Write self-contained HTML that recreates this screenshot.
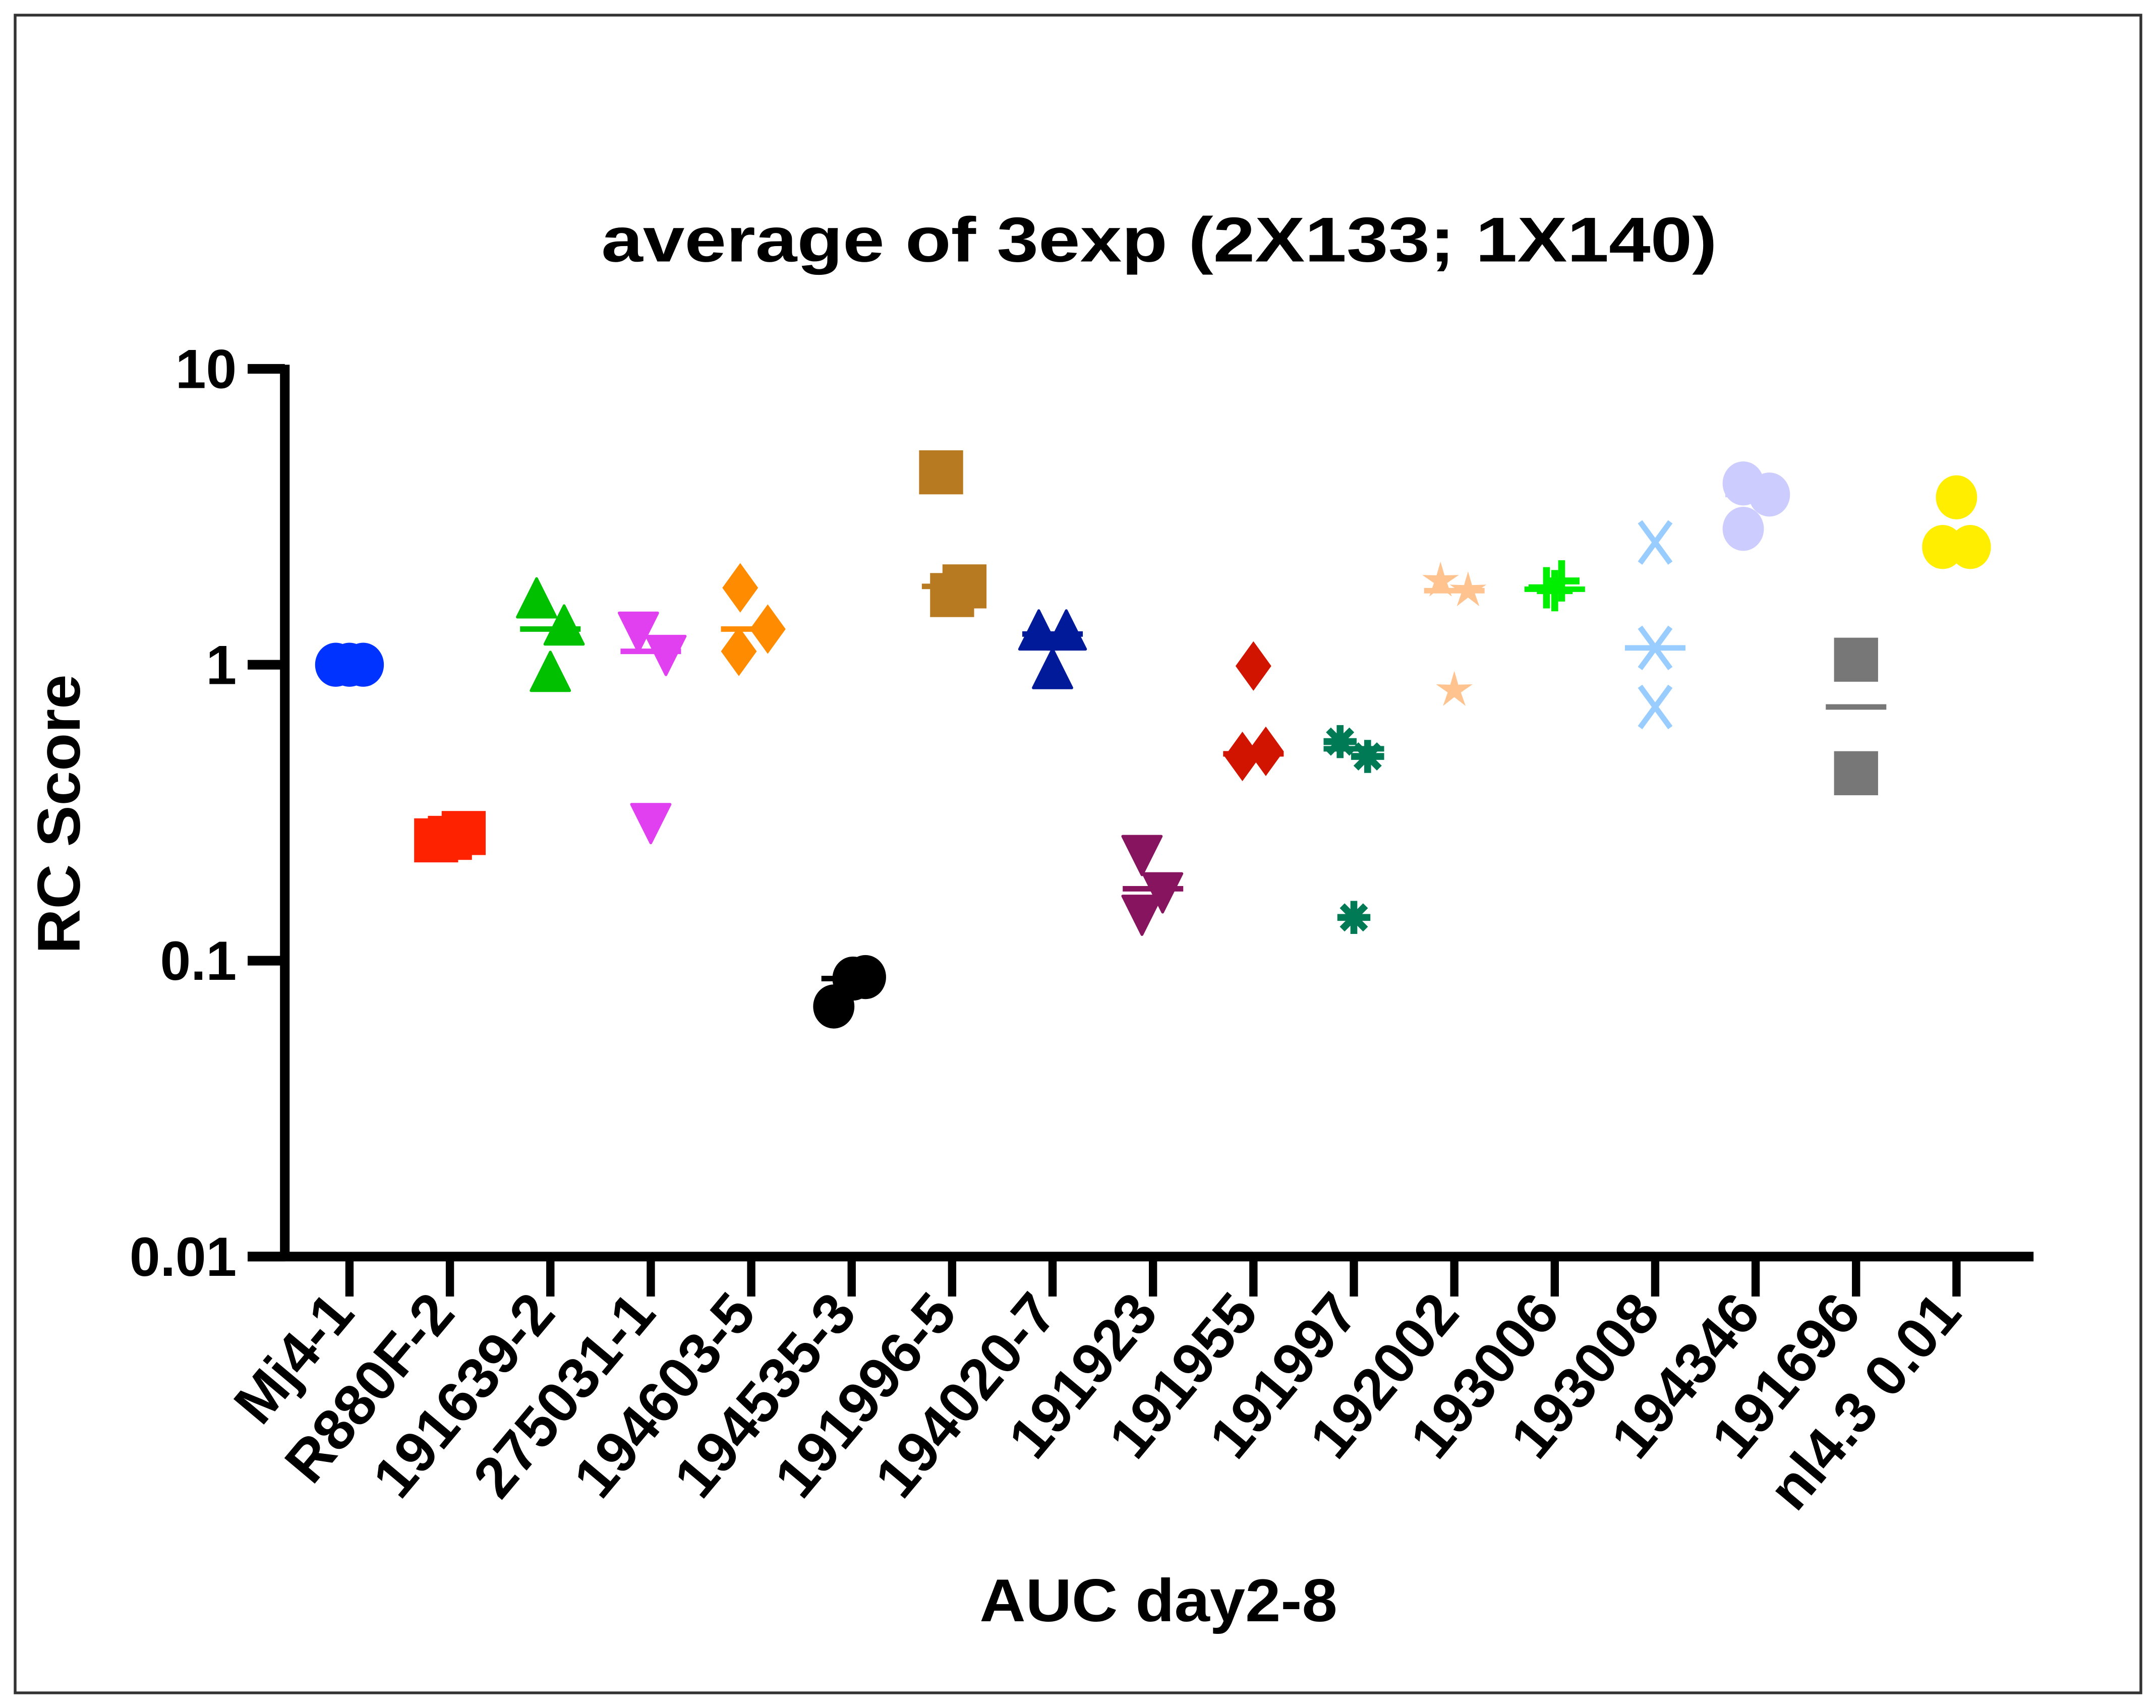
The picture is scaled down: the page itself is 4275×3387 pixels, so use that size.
<!DOCTYPE html>
<html><head><meta charset="utf-8"><style>
html,body{margin:0;padding:0;background:#fff;}
svg{display:block;font-family:"Liberation Sans",Arial,sans-serif;}
</style></head><body>
<svg id="chart" width="4275" height="3387" viewBox="0 0 1567 1241" preserveAspectRatio="none" xmlns="http://www.w3.org/2000/svg">
<rect x="11" y="11" width="1545" height="1219" fill="#fff" stroke="#333" stroke-width="2"/>
<text x="437" y="190" textLength="811" lengthAdjust="spacingAndGlyphs" font-size="46" font-weight="bold">average of 3exp (2X133; 1X140)</text>
<text transform="translate(58,693) rotate(-90)" textLength="203" lengthAdjust="spacingAndGlyphs" font-size="44" font-weight="bold">RC Score</text>
<text x="712" y="1178" textLength="260" lengthAdjust="spacingAndGlyphs" font-size="44" font-weight="bold">AUC day2-8</text>
<g id="axes"></g>
<g id="marks"></g>
</svg>
<script>
const categories = ["Mj4-1","R880F-2","191639-2","275031-1","194603-5","194535-3","191996-5","194020-7","191923","191955","191997","192002","193006","193008","194346","191696","nl4.3 0.01"];
const values = [
 [1,1,1],
 [0.255,0.27,0.26],
 [1.63,1.32,0.92],
 [1.33,1.11,0.30],
 [1.82,1.32,1.11],
 [0.070,0.087,0.088],
 [4.47,1.72,1.84],
 [1.27,1.27,0.94],
 [0.234,0.175,0.147],
 [0.99,0.49,0.51],
 [0.55,0.49,0.14],
 [1.92,1.78,0.82],
 [1.82,1.92,1.78],
 [2.59,1.14,0.72],
 [4.1,3.76,2.88],
 [1.04,0.43],
 [3.68,2.5,2.5]
];
const medians = [1,0.26,1.32,1.11,1.32,0.087,1.84,1.27,0.175,0.5,0.52,1.78,1.8,1.14,3.76,0.72,2.5];
const jitter = [[-10,0,10],[-10,10,0],[-10,10,0],[-9,11,0],[-8,12,-9],[-13,1,10],[-8,0,9],[-10,10,0],[-8,7,-8],[0,-8,9],[-10,10,0],[-10,10,0],[-6,5,0],[0,0,0],[-9,10,-9],[0,0],[0,-10,10]];
const shapes = ["circle","square","up","down","diamond","circle","square","up","down","diamond","asterisk","star","plus","x","circle","square","circle"];
const colors = ["#0033ff","#ff2200","#00c000","#e040f0","#ff8c00","#000000","#b87a20","#001a99","#86145e","#d01400","#007a55","#ffc38f","#00ee00","#99ccff","#ccccff","#777777","#ffee00"];
const yTicks = [10,1,0.1,0.01];
const yTickLabels = ["10","1","0.1","0.01"];

const NS="http://www.w3.org/2000/svg";
const X0=207, X1=1478, Y10=268, Y001=913;
const xFirst=254, xStep=73.0;
function xScale(i){return xFirst+i*xStep;}
function yScale(v){return Y001-(Math.log10(v)+2)/3*(Y001-Y10);}
function mk(tag,attrs,parent){const e=document.createElementNS(NS,tag);for(const k in attrs)e.setAttribute(k,attrs[k]);parent.appendChild(e);return e;}
const axes=document.getElementById('axes'), marks=document.getElementById('marks');

let yl=mk('line',{x1:X0,y1:Y10-3,x2:X0,y2:Y001+3,stroke:'#000','stroke-width':7},axes);


let xl=mk('line',{x1:X0-27,y1:Y001,x2:X1,y2:Y001,stroke:'#000','stroke-width':7},axes);


yTicks.forEach((t,i)=>{
  const y=yScale(t);
  let tk=mk('line',{x1:X0-27,y1:y,x2:X0,y2:y,stroke:'#000','stroke-width':7},axes);
  
  
  let tl=mk('text',{x:172,y:y+14,'text-anchor':'end','font-size':40,'font-weight':'bold'},axes);
  tl.textContent=yTickLabels[i];
  
  
});
categories.forEach((c,i)=>{
  const x=xScale(i);
  let tk=mk('line',{x1:x,y1:Y001,x2:x,y2:Y001+29,stroke:'#000','stroke-width':6},axes);
  
  
  let tl=mk('text',{transform:`translate(${x+5},${Y001+42}) rotate(-50)`,'text-anchor':'end','font-size':42,'font-weight':'bold'},axes);
  tl.textContent=c;
  
  
});

function marker(shape,x,y,col,g){
  if(shape==='circle') return mk('ellipse',{cx:x,cy:y,rx:15,ry:16,fill:col},g);
  if(shape==='square') return mk('rect',{x:x-16,y:y-16,width:32,height:32,fill:col},g);
  if(shape==='up') return mk('polygon',{points:`${x},${y-17} ${x+14},${y+11} ${x-14},${y+11}`,fill:col,stroke:col,'stroke-width':2,'stroke-linejoin':'round'},g);
  if(shape==='down') return mk('polygon',{points:`${x},${y+17} ${x+14},${y-11} ${x-14},${y-11}`,fill:col,stroke:col,'stroke-width':2,'stroke-linejoin':'round'},g);
  if(shape==='diamond') return mk('polygon',{points:`${x},${y-18} ${x+13},${y} ${x},${y+18} ${x-13},${y}`,fill:col},g);
  if(shape==='star'){let p=[];for(let k=0;k<10;k++){const a=-Math.PI/2+k*Math.PI/5;const rr=k%2?5:14;p.push((x+rr*Math.cos(a)).toFixed(1)+','+(y+rr*Math.sin(a)).toFixed(1));}return mk('polygon',{points:p.join(' '),fill:col},g);}
  if(shape==='asterisk'){let d='';for(let k=0;k<4;k++){const a=k*Math.PI/4;d+=`M${x-12*Math.cos(a)},${y-12*Math.sin(a)}L${x+12*Math.cos(a)},${y+12*Math.sin(a)}`;}return mk('path',{d:d,stroke:col,'stroke-width':5,fill:'none'},g);}
  if(shape==='plus') return mk('path',{d:`M${x-13},${y}L${x+13},${y}M${x},${y-15}L${x},${y+15}`,stroke:col,'stroke-width':5,fill:'none'},g);
  if(shape==='x') return mk('path',{d:`M${x-11},${y-15}L${x+11},${y+15}M${x+11},${y-15}L${x-11},${y+15}`,stroke:col,'stroke-width':4,fill:'none'},g);
}
categories.forEach((c,i)=>{
  const g=mk('g',{},marks);
  
  
  const x=xScale(i);
  const ml=mk('line',{x1:x-22,y1:yScale(medians[i]),x2:x+22,y2:yScale(medians[i]),stroke:colors[i],'stroke-width':4},g);
  
  
  values[i].forEach((v,j)=>{
    const m=marker(shapes[i],x+jitter[i][j],yScale(v),colors[i],g);
    
    
  });
});
</script>
</body></html>
